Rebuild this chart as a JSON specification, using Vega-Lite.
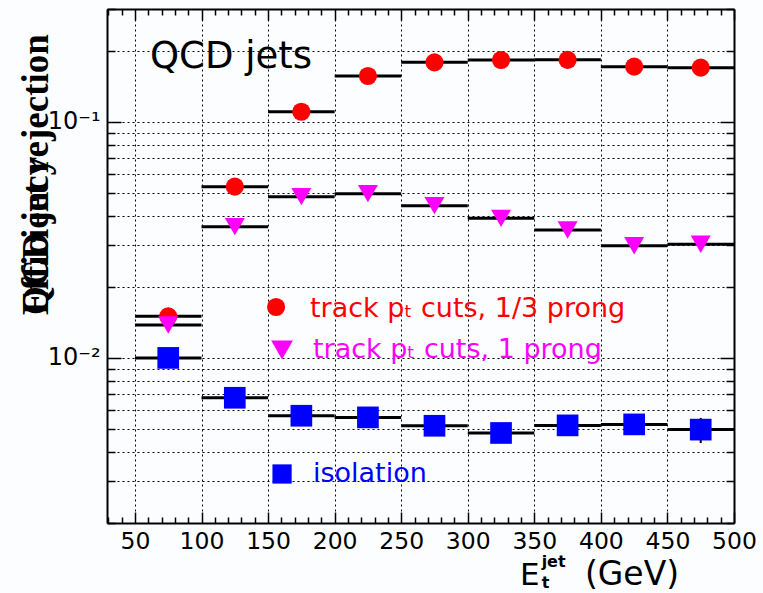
{
  "$schema": "https://vega.github.io/schema/vega-lite/v6.json",
  "width": 627,
  "height": 514,
  "autosize": {"type": "none"},
  "padding": {"left": 107, "top": 9, "right": 29, "bottom": 70},
  "background": "#fbfdff",
  "config": {"view": {"stroke": null}},
  "datasets": {
    "bins": [
      {"cut": "1/3 prong", "lo": 50, "hi": 100, "et": 75, "eff": 0.0150},
      {"cut": "1/3 prong", "lo": 100, "hi": 150, "et": 125, "eff": 0.0531},
      {"cut": "1/3 prong", "lo": 150, "hi": 200, "et": 175, "eff": 0.1102},
      {"cut": "1/3 prong", "lo": 200, "hi": 250, "et": 225, "eff": 0.1561},
      {"cut": "1/3 prong", "lo": 250, "hi": 300, "et": 275, "eff": 0.1784},
      {"cut": "1/3 prong", "lo": 300, "hi": 350, "et": 325, "eff": 0.1825},
      {"cut": "1/3 prong", "lo": 350, "hi": 400, "et": 375, "eff": 0.1828},
      {"cut": "1/3 prong", "lo": 400, "hi": 450, "et": 425, "eff": 0.1710},
      {"cut": "1/3 prong", "lo": 450, "hi": 500, "et": 475, "eff": 0.1693},
      {"cut": "1 prong", "lo": 50, "hi": 100, "et": 75, "eff": 0.01378},
      {"cut": "1 prong", "lo": 100, "hi": 150, "et": 125, "eff": 0.03593},
      {"cut": "1 prong", "lo": 150, "hi": 200, "et": 175, "eff": 0.04814},
      {"cut": "1 prong", "lo": 200, "hi": 250, "et": 225, "eff": 0.04957},
      {"cut": "1 prong", "lo": 250, "hi": 300, "et": 275, "eff": 0.04409},
      {"cut": "1 prong", "lo": 300, "hi": 350, "et": 325, "eff": 0.03899},
      {"cut": "1 prong", "lo": 350, "hi": 400, "et": 375, "eff": 0.03479},
      {"cut": "1 prong", "lo": 400, "hi": 450, "et": 425, "eff": 0.02985},
      {"cut": "1 prong", "lo": 450, "hi": 500, "et": 475, "eff": 0.03027},
      {"cut": "isolation", "lo": 50, "hi": 100, "et": 75, "eff": 0.0100},
      {"cut": "isolation", "lo": 100, "hi": 150, "et": 125, "eff": 0.00678},
      {"cut": "isolation", "lo": 150, "hi": 200, "et": 175, "eff": 0.00569},
      {"cut": "isolation", "lo": 200, "hi": 250, "et": 225, "eff": 0.00560},
      {"cut": "isolation", "lo": 250, "hi": 300, "et": 275, "eff": 0.00516},
      {"cut": "isolation", "lo": 300, "hi": 350, "et": 325, "eff": 0.00481},
      {"cut": "isolation", "lo": 350, "hi": 400, "et": 375, "eff": 0.00518},
      {"cut": "isolation", "lo": 400, "hi": 450, "et": 425, "eff": 0.00523},
      {"cut": "isolation", "lo": 450, "hi": 500, "et": 475, "eff": 0.00497, "errLo": 0.00436, "errHi": 0.00557}
    ]
  },
  "data": {"name": "bins"},
  "layer": [
    {
      "mark": {"type": "rule", "color": "black", "strokeWidth": 3},
      "encoding": {
        "x": {
          "field": "lo", "type": "quantitative",
          "scale": {"domain": [29, 500], "nice": false, "zero": false},
          "axis": {
            "orient": "bottom", "title": null,
            "values": [30, 40, 50, 60, 70, 80, 90, 100, 110, 120, 130, 140, 150, 160, 170, 180, 190, 200, 210, 220, 230, 240, 250, 260, 270, 280, 290, 300, 310, 320, 330, 340, 350, 360, 370, 380, 390, 400, 410, 420, 430, 440, 450, 460, 470, 480, 490, 500],
            "grid": true, "gridColor": "black", "gridDash": [2, 3], "gridWidth": 1,
            "gridOpacity": {"condition": {"test": "datum.value % 50 === 0 && datum.value < 500", "value": 1}, "value": 0},
            "tickSize": {"condition": {"test": "datum.value % 50 === 0", "value": -11}, "value": -6},
            "tickColor": "black", "tickWidth": 1.5,
            "domainColor": "black", "domainWidth": 2,
            "labelExpr": "datum.value % 50 === 0 ? datum.label : ''",
            "labelFont": "DejaVu Sans", "labelFontSize": 23.5, "labelColor": "black",
            "labelPadding": 17, "labelOverlap": false, "labelFlush": false, "labelBound": false
          }
        },
        "x2": {"field": "hi"},
        "y": {
          "field": "eff", "type": "quantitative",
          "scale": {"type": "log", "domain": [0.002, 0.3], "nice": false},
          "axis": {
            "orient": "left", "title": null,
            "values": [0.002, 0.003, 0.004, 0.005, 0.006, 0.007, 0.008, 0.009, 0.01, 0.02, 0.03, 0.04, 0.05, 0.06, 0.07, 0.08, 0.09, 0.1, 0.2, 0.3],
            "grid": true, "gridColor": "black", "gridDash": [2, 3], "gridWidth": 1,
            "tickSize": {"condition": {"test": "datum.value === 0.01 || datum.value === 0.1", "value": -14}, "value": -8},
            "tickColor": "black", "tickWidth": 1.5,
            "domainColor": "black", "domainWidth": 2,
            "labelExpr": "datum.value === 0.01 ? '10⁻²' : datum.value === 0.1 ? '10⁻¹' : ''",
            "labelFont": "DejaVu Sans", "labelFontSize": 24, "labelColor": "black",
            "labelPadding": 21, "labelOverlap": false, "labelFlush": false, "labelBound": false
          }
        }
      }
    },
    {
      "transform": [{"filter": "isValid(datum.errLo)"}],
      "mark": {"type": "rule", "color": "black", "strokeWidth": 2},
      "encoding": {
        "x": {"field": "et", "type": "quantitative", "scale": {"domain": [29, 500], "nice": false, "zero": false}, "axis": null},
        "y": {"field": "errLo", "type": "quantitative", "scale": {"type": "log", "domain": [0.002, 0.3], "nice": false}, "axis": null},
        "y2": {"field": "errHi"}
      }
    },
    {
      "mark": {"type": "point", "filled": true, "opacity": 1, "strokeWidth": 0},
      "encoding": {
        "x": {
          "field": "et", "type": "quantitative",
          "scale": {"domain": [29, 500], "nice": false, "zero": false},
          "axis": {
            "orient": "top", "title": null, "labels": false, "grid": false,
            "values": [30, 40, 50, 60, 70, 80, 90, 100, 110, 120, 130, 140, 150, 160, 170, 180, 190, 200, 210, 220, 230, 240, 250, 260, 270, 280, 290, 300, 310, 320, 330, 340, 350, 360, 370, 380, 390, 400, 410, 420, 430, 440, 450, 460, 470, 480, 490, 500],
            "tickSize": {"condition": {"test": "datum.value % 50 === 0", "value": -11}, "value": -6},
            "tickColor": "black", "tickWidth": 1.5,
            "domainColor": "black", "domainWidth": 2
          }
        },
        "y": {
          "field": "eff", "type": "quantitative",
          "scale": {"type": "log", "domain": [0.002, 0.3], "nice": false},
          "axis": {
            "orient": "right", "title": null, "labels": false, "grid": false,
            "values": [0.002, 0.003, 0.004, 0.005, 0.006, 0.007, 0.008, 0.009, 0.01, 0.02, 0.03, 0.04, 0.05, 0.06, 0.07, 0.08, 0.09, 0.1, 0.2, 0.3],
            "tickSize": {"condition": {"test": "datum.value === 0.01 || datum.value === 0.1", "value": -14}, "value": -8},
            "tickColor": "black", "tickWidth": 1.5,
            "domainColor": "black", "domainWidth": 2
          }
        },
        "color": {
          "field": "cut", "type": "nominal",
          "scale": {"domain": ["1/3 prong", "1 prong", "isolation"], "range": ["#ff0000", "#ff00ff", "#0000ff"]},
          "legend": null
        },
        "shape": {
          "field": "cut", "type": "nominal",
          "scale": {"domain": ["1/3 prong", "1 prong", "isolation"], "range": ["circle", "triangle-down", "square"]},
          "legend": null
        },
        "size": {
          "field": "cut", "type": "ordinal",
          "scale": {"domain": ["1/3 prong", "1 prong", "isolation"], "range": [330, 470, 370]},
          "legend": null
        }
      }
    },
    {
      "data": {"values": [{}]},
      "mark": {"type": "point", "shape": "circle", "filled": true, "color": "#ff0000", "opacity": 1, "strokeWidth": 0, "size": 330},
      "encoding": {
        "x": {"datum": 156, "type": "quantitative", "scale": {"domain": [29, 500], "nice": false, "zero": false}, "axis": null},
        "y": {"datum": 0.01643, "type": "quantitative", "scale": {"type": "log", "domain": [0.002, 0.3], "nice": false}, "axis": null}
      }
    },
    {
      "data": {"values": [{}]},
      "mark": {"type": "point", "shape": "triangle-down", "filled": true, "color": "#ff00ff", "opacity": 1, "strokeWidth": 0, "size": 470},
      "encoding": {
        "x": {"datum": 160.5, "type": "quantitative", "scale": {"domain": [29, 500], "nice": false, "zero": false}, "axis": null},
        "y": {"datum": 0.0108, "type": "quantitative", "scale": {"type": "log", "domain": [0.002, 0.3], "nice": false}, "axis": null}
      }
    },
    {
      "data": {"values": [{}]},
      "mark": {"type": "point", "shape": "square", "filled": true, "color": "#0000ff", "opacity": 1, "strokeWidth": 0, "size": 370},
      "encoding": {
        "x": {"datum": 160.5, "type": "quantitative", "scale": {"domain": [29, 500], "nice": false, "zero": false}, "axis": null},
        "y": {"datum": 0.003225, "type": "quantitative", "scale": {"type": "log", "domain": [0.002, 0.3], "nice": false}, "axis": null}
      }
    },
    {
      "data": {"values": [{}]},
      "mark": {"type": "text", "text": "track pₜ cuts, 1/3 prong", "font": "DejaVu Sans", "fontSize": 27, "color": "#ff0000", "align": "left", "baseline": "alphabetic"},
      "encoding": {
        "x": {"datum": 181.5, "type": "quantitative", "scale": {"domain": [29, 500], "nice": false, "zero": false}, "axis": null},
        "y": {"datum": 0.0149, "type": "quantitative", "scale": {"type": "log", "domain": [0.002, 0.3], "nice": false}, "axis": null}
      }
    },
    {
      "data": {"values": [{}]},
      "mark": {"type": "text", "text": "track pₜ cuts, 1 prong", "font": "DejaVu Sans", "fontSize": 27, "color": "#ff00ff", "align": "left", "baseline": "alphabetic"},
      "encoding": {
        "x": {"datum": 183.7, "type": "quantitative", "scale": {"domain": [29, 500], "nice": false, "zero": false}, "axis": null},
        "y": {"datum": 0.00999, "type": "quantitative", "scale": {"type": "log", "domain": [0.002, 0.3], "nice": false}, "axis": null}
      }
    },
    {
      "data": {"values": [{}]},
      "mark": {"type": "text", "text": "isolation", "font": "DejaVu Sans", "fontSize": 27, "color": "#0000ff", "align": "left", "baseline": "alphabetic"},
      "encoding": {
        "x": {"datum": 183.7, "type": "quantitative", "scale": {"domain": [29, 500], "nice": false, "zero": false}, "axis": null},
        "y": {"datum": 0.002983, "type": "quantitative", "scale": {"type": "log", "domain": [0.002, 0.3], "nice": false}, "axis": null}
      }
    },
    {
      "data": {"values": [{}]},
      "mark": {"type": "text", "text": "QCD jets", "font": "DejaVu Sans", "fontSize": 37, "color": "black", "align": "left", "baseline": "alphabetic"},
      "encoding": {
        "x": {"datum": 61.3, "type": "quantitative", "scale": {"domain": [29, 500], "nice": false, "zero": false}, "axis": null},
        "y": {"datum": 0.1688, "type": "quantitative", "scale": {"type": "log", "domain": [0.002, 0.3], "nice": false}, "axis": null}
      }
    },
    {
      "data": {"values": [{"title": "Efficiency"}, {"title": "QCD jet rejection"}]},
      "mark": {"type": "text", "font": "Liberation Serif", "fontWeight": "bold", "fontSize": 37, "color": "black", "align": "left", "baseline": "alphabetic", "angle": 270},
      "encoding": {
        "text": {"field": "title"},
        "x": {"datum": -15.3, "type": "quantitative", "scale": {"domain": [29, 500], "nice": false, "zero": false}, "axis": null},
        "y": {"datum": 0.0152, "type": "quantitative", "scale": {"type": "log", "domain": [0.002, 0.3], "nice": false}, "axis": null}
      }
    },
    {
      "data": {"values": [{}]},
      "mark": {"type": "text", "text": "E", "font": "DejaVu Sans", "fontSize": 31, "color": "black", "align": "left", "baseline": "alphabetic"},
      "encoding": {
        "x": {"datum": 339.2, "type": "quantitative", "scale": {"domain": [29, 500], "nice": false, "zero": false}, "axis": null},
        "y": {"datum": 0.00109, "type": "quantitative", "scale": {"type": "log", "domain": [0.002, 0.3], "nice": false}, "axis": null}
      }
    },
    {
      "data": {"values": [{}]},
      "mark": {"type": "text", "text": "t", "font": "DejaVu Sans", "fontSize": 16, "fontWeight": "bold", "color": "black", "align": "left", "baseline": "alphabetic"},
      "encoding": {
        "x": {"datum": 355.5, "type": "quantitative", "scale": {"domain": [29, 500], "nice": false, "zero": false}, "axis": null},
        "y": {"datum": 0.00106, "type": "quantitative", "scale": {"type": "log", "domain": [0.002, 0.3], "nice": false}, "axis": null}
      }
    },
    {
      "data": {"values": [{}]},
      "mark": {"type": "text", "text": "jet", "font": "DejaVu Sans", "fontSize": 16, "fontWeight": "bold", "color": "black", "align": "left", "baseline": "alphabetic"},
      "encoding": {
        "x": {"datum": 355.5, "type": "quantitative", "scale": {"domain": [29, 500], "nice": false, "zero": false}, "axis": null},
        "y": {"datum": 0.0013, "type": "quantitative", "scale": {"type": "log", "domain": [0.002, 0.3], "nice": false}, "axis": null}
      }
    },
    {
      "data": {"values": [{}]},
      "mark": {"type": "text", "text": "(GeV)", "font": "DejaVu Sans", "fontSize": 33, "color": "black", "align": "left", "baseline": "alphabetic"},
      "encoding": {
        "x": {"datum": 388, "type": "quantitative", "scale": {"domain": [29, 500], "nice": false, "zero": false}, "axis": null},
        "y": {"datum": 0.00109, "type": "quantitative", "scale": {"type": "log", "domain": [0.002, 0.3], "nice": false}, "axis": null}
      }
    }
  ],
  "resolve": {"axis": {"x": "independent", "y": "independent"}}
}
